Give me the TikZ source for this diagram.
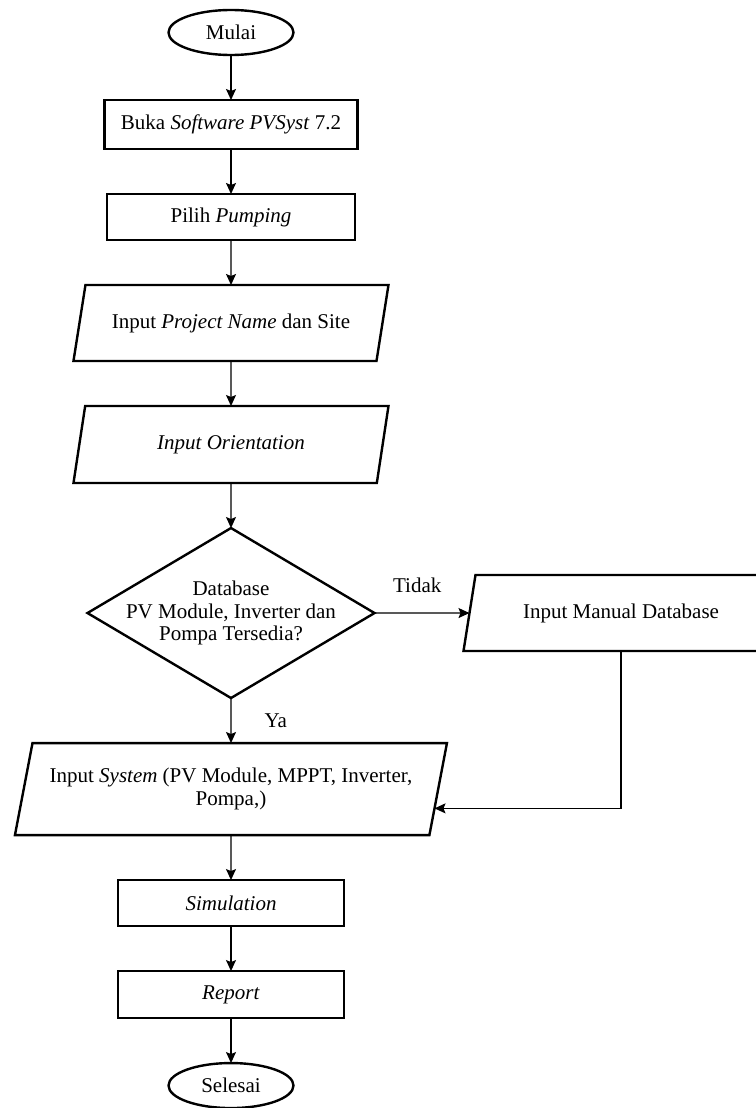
\documentclass[tikz,border=0pt]{standalone}
\usepackage{fontspec}
\setmainfont{Liberation Serif}
\usetikzlibrary{shapes.geometric, arrows.meta, positioning, calc}
\tikzset{
  term/.style={ellipse, draw=black, line width=2.4pt, minimum width=125pt, minimum height=45pt,
               inner sep=0pt, outer sep=0pt, align=center},
  box/.style={rectangle, draw=black, line width=2.4pt, minimum height=47pt, inner sep=0pt,
              outer sep=0pt, align=center},
  io/.style={trapezium, trapezium left angle=65, trapezium right angle=115, trapezium stretches body,
             draw=black, line width=2.4pt, minimum width=315pt, minimum height=76pt, outer sep=0pt, align=center},
  dec/.style={diamond, draw=black, line width=2.4pt, minimum width=287pt, minimum height=170pt,
              inner sep=0pt, outer sep=0pt},
  flow/.style={-{Stealth[length=11pt, width=10pt, inset=2pt]}, draw=black, line width=1.3pt},
  lbl/.style={inner sep=0pt}
}

\begin{document}
\begin{tikzpicture}[node distance=45pt and 95pt, every node/.style={font=\fontsize{21}{22.5}\selectfont}]
  \useasboundingbox (0pt,0pt) rectangle (755pt,-1108pt);
  \node[term] (start) at (231pt,-32.5pt) {Mulai};
  \node[box, below=of start, minimum width=253pt, minimum height=49pt] (open) {Buka \textit{Software PVSyst} 7.2};
  \node[box, below=of open, minimum width=248pt, minimum height=46pt] (pump) {Pilih \textit{Pumping}};
  \node[io, below=of pump] (site) {Input \textit{Project Name} dan Site};
  \node[io, below=of site, minimum height=77pt] (orient) {\textit{Input Orientation}};
  \node[dec, below=of orient] (dbase) {};
  \node[lbl, align=center] (dbtext) at (dbase) {Database\\PV Module, Inverter dan\\Pompa Tersedia?};
  \node[io, right=of dbase] (manual) {Input Manual Database};
  \node[io, below=of dbase, trapezium left angle=70, trapezium right angle=110, minimum width=432pt,
        minimum height=92pt] (sys) {Input \textit{System} (PV Module, MPPT, Inverter,\\Pompa,)};
  \node[box, below=of sys, minimum width=226pt, minimum height=46pt] (sim) {\textit{Simulation}};
  \node[box, below=of sim, minimum width=226pt] (report) {\textit{Report}};
  \node[term, below=of report] (finish) {Selesai};
  \coordinate (sysin) at ($(sys.bottom right corner)!0.29!(sys.top right corner)$);

  \draw[flow] (start) -- (open);
  \draw[flow] (open) -- (pump);
  \draw[flow] (pump) -- (site);
  \draw[flow] (site) -- (orient);
  \draw[flow] (orient) -- (dbase);
  \draw[flow] (dbase) -- node[lbl, above=20pt, pos=0.45] {Tidak} (manual);
  \draw[flow] (dbase) -- node[lbl, right=33pt] {Ya} (sys);
  \draw[flow] (manual.south) |- (sysin);
  \draw[flow] (sys) -- (sim);
  \draw[flow] (sim) -- (report);
  \draw[flow] (report) -- (finish);
\end{tikzpicture}
\end{document}
